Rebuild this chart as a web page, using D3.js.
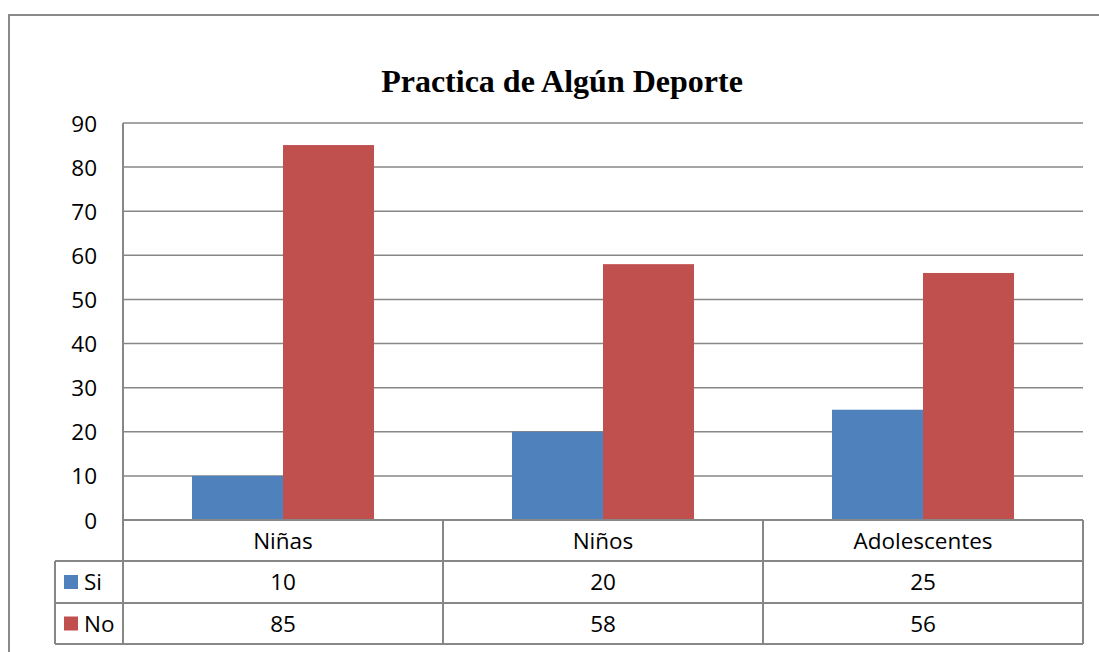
<!DOCTYPE html>
<html>
<head>
<meta charset="utf-8">
<script src="https://cdn.jsdelivr.net/npm/d3@7"></script>
<style>
  html, body { margin: 0; padding: 0; background: #fff; }
  svg { display: block; }
</style>
</head>
<body>
<svg id="chart" width="1099" height="652"></svg>
<script>
const title = "Practica de Algún Deporte";
const categories = ["Niñas", "Niños", "Adolescentes"];
const seriesNames = ["Si", "No"];
const siValues = [10, 20, 25];
const noValues = [85, 58, 56];
const yTicks = [0, 10, 20, 30, 40, 50, 60, 70, 80, 90];
const colors = ["#4F81BD", "#C0504D"];

const seriesValues = [siValues, noValues];
const svg = d3.select("#chart");
const plot = { left: 123, right: 1083, top: 123, bottom: 520 };
const rowH = [41, 42, 41];
const legendLeft = 55;
const font = "'Open Sans', sans-serif";
const fs = 22.5;
const gridColor = "#878787";

// outer border
svg.append("rect")
  .attr("x", 9).attr("y", 15).attr("width", 1120).attr("height", 660)
  .attr("fill", "none").attr("stroke", "#8a8a8a").attr("stroke-width", 2);

// title
svg.append("text")
  .attr("x", 562).attr("y", 92)
  .attr("text-anchor", "middle")
  .attr("font-family", "'Liberation Serif', 'Times New Roman', serif")
  .attr("font-weight", "bold").attr("font-size", 32)
  .attr("fill", "#000")
  .text(title);

const y = d3.scaleLinear().domain([0, 90]).range([plot.bottom, plot.top]);
const x0 = d3.scaleBand().domain(categories).range([plot.left, plot.right]).paddingInner(0).paddingOuter(0);
const groupW = x0.bandwidth();
const x1 = d3.scaleBand().domain(seriesNames).range([groupW * 0.215625, groupW * (1 - 0.215625)]).padding(0);

// gridlines
svg.append("g").selectAll("line").data(yTicks.filter(d => d > 0)).join("line")
  .attr("x1", plot.left).attr("x2", plot.right)
  .attr("y1", d => y(d)).attr("y2", d => y(d))
  .attr("stroke", gridColor).attr("stroke-width", 1.5);

// y axis tick labels
const yAxis = d3.axisLeft(y).tickValues(yTicks).tickSize(0).tickPadding(26);
const gy = svg.append("g").attr("transform", `translate(${plot.left},0)`).call(yAxis);
gy.select(".domain").remove();
gy.selectAll("text").attr("font-family", font).attr("font-size", fs).attr("fill", "#000")
  .attr("dy", "0.36em");

// bars
const groups = svg.append("g").selectAll("g").data(categories).join("g")
  .attr("transform", d => `translate(${x0(d)},0)`);
groups.selectAll("rect")
  .data((c, i) => seriesNames.map((s, j) => ({ s, v: seriesValues[j][i], j })))
  .join("rect")
  .attr("x", d => x1(d.s))
  .attr("width", x1.bandwidth())
  .attr("y", d => y(d.v))
  .attr("height", d => y(0) - y(d.v))
  .attr("fill", d => colors[d.j]);

// data table
const rowsTop = [plot.bottom, plot.bottom + rowH[0], plot.bottom + rowH[0] + rowH[1]];
const tableBottom = rowsTop[2] + rowH[2];
const tbl = svg.append("g").attr("stroke", gridColor).attr("stroke-width", 2).attr("fill", "none");
tbl.append("line").attr("x1", plot.left).attr("x2", plot.right).attr("y1", rowsTop[0]).attr("y2", rowsTop[0]);
[rowsTop[1], rowsTop[2], tableBottom].forEach(yy => {
  tbl.append("line").attr("x1", legendLeft).attr("x2", plot.right).attr("y1", yy).attr("y2", yy);
});
tbl.append("line").attr("x1", plot.left).attr("x2", plot.left).attr("y1", plot.top).attr("y2", tableBottom);
tbl.append("line").attr("x1", legendLeft).attr("x2", legendLeft).attr("y1", rowsTop[1]).attr("y2", tableBottom);
categories.forEach(c => {
  const xx = x0(c) + groupW;
  tbl.append("line").attr("x1", xx).attr("x2", xx).attr("y1", rowsTop[0]).attr("y2", tableBottom);
});

// category labels
svg.append("g").selectAll("text").data(categories).join("text")
  .attr("x", d => x0(d) + groupW / 2)
  .attr("y", rowsTop[0] + rowH[0] / 2)
  .attr("dy", "0.36em")
  .attr("text-anchor", "middle")
  .attr("font-family", font).attr("font-size", fs).attr("fill", "#000")
  .text(d => d);

// series rows
seriesNames.forEach((s, j) => {
  const top = rowsTop[j + 1], h = rowH[j + 1];
  svg.append("rect").attr("x", 64).attr("y", top + h / 2 - 7).attr("width", 14).attr("height", 14)
    .attr("fill", colors[j]);
  svg.append("text").attr("x", 84).attr("y", top + h / 2).attr("dy", "0.36em")
    .attr("font-family", font).attr("font-size", fs).attr("fill", "#000").text(s);
  svg.append("g").selectAll("text").data(categories).join("text")
    .attr("x", d => x0(d) + groupW / 2)
    .attr("y", top + h / 2).attr("dy", "0.36em")
    .attr("text-anchor", "middle")
    .attr("font-family", font).attr("font-size", fs).attr("fill", "#000")
    .text((d, i) => seriesValues[j][i]);
});
</script>
</body>
</html>
